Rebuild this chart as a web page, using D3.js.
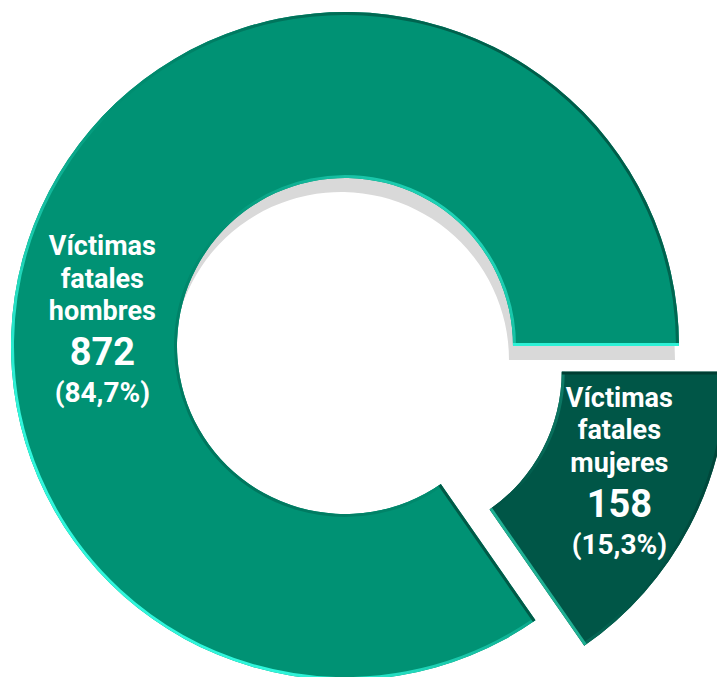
<!DOCTYPE html>
<html>
<head>
<meta charset="utf-8">
<script src="https://cdn.jsdelivr.net/npm/d3@7"></script>
<style>
  html, body { margin: 0; padding: 0; background: #fff; }
  svg { display: block; }
  text { font-family: Roboto, "Open Sans", sans-serif; fill: #fff; text-anchor: middle; }
</style>
</head>
<body>
<svg id="chart"></svg>
<script>
(function () {
    'use strict';

    // data
    var categories = ['mujeres', 'hombres'],
        values     = [158, 872],
        shares     = ['15,3%', '84,7%'],
        labelLines = [['Víctimas', 'fatales', 'mujeres'], ['Víctimas', 'fatales', 'hombres']];

    var WIDTH = 717, HEIGHT = 677,
        CX = 345, CY = 346,
        OUTER_R = 334, INNER_R = 168,
        EXPLODE = 55,          // offset of the small slice
        BEVEL = 3,
        LABEL_R = [247, 244],
        LABEL_ANGLE = [114, 276];  // degrees, clockwise from 12 o'clock

    var PALETTE = {
        mujeres: { fill: '#005647', dark: '#00342b', light: '#1fb093' },
        hombres: { fill: '#009274', dark: '#005946', light: '#30f7dc' }
    };
    var LIGHT = [-Math.SQRT1_2, Math.SQRT1_2];   // light comes from the lower left

    var svg = d3.select('#chart').attr('width', WIDTH).attr('height', HEIGHT);
    var defs = svg.append('defs');
    var root = svg.append('g').attr('transform', 'translate(' + CX + ',' + CY + ')');

    var pie = d3.pie().sort(null).startAngle(Math.PI / 2).endAngle(Math.PI / 2 + 2 * Math.PI);
    var arcs = pie(values);

    var arc = d3.arc().innerRadius(INNER_R).outerRadius(OUTER_R);

    function shadeScale(key) {
        var p = PALETTE[key];
        return d3.scaleLinear().domain([-1, 0, 0.75, 1]).range([p.dark, p.fill, p.light, p.light]);
    }

    function lit(n) {
        return n[0] * LIGHT[0] + n[1] * LIGHT[1];
    }

    // linear gradient along the light axis; reversed for the inner edge
    function edgeGradient(id, key, inner) {
        var shade = shadeScale(key),
            k = OUTER_R * 1.05,
            g = defs.append('linearGradient')
                .attr('id', id)
                .attr('gradientUnits', 'userSpaceOnUse')
                .attr('x1', LIGHT[0] * k).attr('y1', LIGHT[1] * k)
                .attr('x2', -LIGHT[0] * k).attr('y2', -LIGHT[1] * k);
        d3.range(0, 1.0001, 0.1).forEach(function (t) {
            var dot = inner ? (2 * t - 1) : (1 - 2 * t);
            g.append('stop').attr('offset', t).attr('stop-color', shade(dot));
        });
        return 'url(#' + id + ')';
    }

    function arcLine(r, a0, a1) {
        var p = d3.path();
        p.arc(0, 0, r, a0 - Math.PI / 2, a1 - Math.PI / 2, false);
        return p.toString();
    }

    function radialLine(a) {
        var p0 = d3.pointRadial(a, INNER_R), p1 = d3.pointRadial(a, OUTER_R);
        return 'M' + p0[0] + ',' + p0[1] + 'L' + p1[0] + ',' + p1[1];
    }

    // grey shadow cast on the upper part of the hole, kept inside the ring
    var big = arcs[1];
    defs.append('clipPath').attr('id', 'shadow-ring')
        .append('circle').attr('r', OUTER_R - 2);
    defs.append('clipPath').attr('id', 'shadow-top')
        .append('rect')
        .attr('x', -OUTER_R - 20).attr('y', -OUTER_R - 20)
        .attr('width', 2 * OUTER_R + 40).attr('height', OUTER_R + 50);
    root.append('g').attr('clip-path', 'url(#shadow-ring)')
        .append('g').attr('clip-path', 'url(#shadow-top)')
        .append('path')
        .attr('d', arc(big))
        .attr('transform', 'translate(-4,14)')
        .attr('fill', '#d9d9d9');

    arcs.forEach(function (d, i) {
        var key = categories[i],
            shade = shadeScale(key),
            mid = (d.startAngle + d.endAngle) / 2,
            off = i === 0 ? d3.pointRadial(mid, EXPLODE) : [0, 0];

        var g = root.append('g').attr('transform', 'translate(' + off[0] + ',' + off[1] + ')');

        g.append('path').attr('d', arc(d)).attr('fill', PALETTE[key].fill);

        var clipId = 'clip-' + key;
        defs.append('clipPath').attr('id', clipId).append('path').attr('d', arc(d));
        var bevel = g.append('g').attr('clip-path', 'url(#' + clipId + ')')
            .attr('fill', 'none').attr('stroke-width', BEVEL * 2);

        bevel.append('path').attr('d', arcLine(OUTER_R, d.startAngle, d.endAngle))
            .attr('stroke', edgeGradient('go-' + key, key, false));
        bevel.append('path').attr('d', arcLine(INNER_R, d.startAngle, d.endAngle))
            .attr('stroke', edgeGradient('gi-' + key, key, true));

        // straight edges, normal points away from the slice
        var a = d.startAngle, b = d.endAngle;
        bevel.append('path').attr('d', radialLine(a))
            .attr('stroke', shade(lit([-Math.cos(a), -Math.sin(a)])));
        bevel.append('path').attr('d', radialLine(b))
            .attr('stroke', shade(lit([Math.cos(b), Math.sin(b)])));

        // label
        var lp = d3.pointRadial(LABEL_ANGLE[i] * Math.PI / 180, LABEL_R[i]),
            label = g.append('g').attr('transform', 'translate(' + lp[0] + ',' + lp[1] + ')');

        labelLines[i].forEach(function (line, j) {
            label.append('text')
                .attr('y', -65 + 32.5 * j)
                .style('font-size', '27px')
                .style('font-weight', 700)
                .text(line);
        });
        label.append('text')
            .attr('y', 45)
            .style('font-size', '38px')
            .style('font-weight', 700)
            .text(d3.format(',')(values[i]));
        label.append('text')
            .attr('y', 82)
            .style('font-size', '28px')
            .style('font-weight', 700)
            .text('(' + shares[i] + ')');
    });
})();
</script>
</body>
</html>
